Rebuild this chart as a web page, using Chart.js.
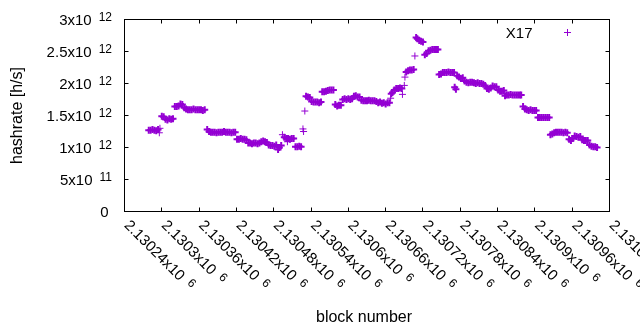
<!DOCTYPE html>
<html lang="en">
<head>
    <meta charset="UTF-8">
    <title>X17 hashrate</title>
    <script src="https://cdn.jsdelivr.net/npm/chart.js"></script>
    <style>
        body { margin: 0; background: #fff; }
    </style>
</head>
<body>
    <canvas id="myChart" width="640" height="330"></canvas>

    <script>
        // block numbers and hashrate (in units of 10^12 h/s)
        const blocks = [
            2130279, 2130282, 2130285, 2130288, 2130291, 2130294, 2130296, 2130297,
            2130300, 2130303, 2130306, 2130309, 2130312, 2130315, 2130318,
            2130321, 2130324, 2130327, 2130330, 2130333, 2130336,
            2130339, 2130342, 2130345, 2130348, 2130351, 2130354, 2130357, 2130360, 2130363, 2130366, 2130369,
            2130373, 2130376, 2130379, 2130382, 2130385, 2130388, 2130391, 2130394, 2130397, 2130400,
            2130403, 2130406, 2130409, 2130412, 2130415, 2130418,
            2130421, 2130424, 2130427, 2130430, 2130433, 2130436,
            2130439, 2130442, 2130445, 2130448, 2130451, 2130454, 2130457,
            2130460, 2130463, 2130466, 2130469,
            2130472, 2130475, 2130478, 2130481, 2130484, 2130487, 2130489, 2130492,
            2130494, 2130497, 2130500, 2130502, 2130503, 2130506, 2130509, 2130512,
            2130515, 2130518, 2130521, 2130524, 2130527, 2130528, 2130530,
            2130532, 2130535, 2130538,
            2130541, 2130544, 2130547, 2130550, 2130553, 2130556,
            2130558, 2130561, 2130564, 2130567, 2130570, 2130573, 2130576,
            2130579, 2130582, 2130585, 2130588,
            2130591, 2130594, 2130597, 2130600, 2130603, 2130606,
            2130609, 2130612, 2130615, 2130618,
            2130621, 2130624, 2130627, 2130630, 2130633, 2130636, 2130639, 2130642, 2130645,
            2130648, 2130651, 2130654, 2130657, 2130660, 2130663, 2130666,
            2130668, 2130669, 2130671,
            2130674, 2130677, 2130680, 2130683, 2130686, 2130687, 2130690, 2130691,
            2130693, 2130696, 2130699, 2130702, 2130705, 2130707,
            2130709, 2130711, 2130714, 2130717, 2130720, 2130723, 2130726,
            2130729, 2130732, 2130735, 2130738, 2130741, 2130744,
            2130746, 2130749, 2130752, 2130755, 2130758, 2130761, 2130764, 2130767, 2130770, 2130771, 2130773,
            2130775, 2130778, 2130781, 2130784, 2130787, 2130790, 2130793, 2130796, 2130799, 2130802,
            2130805, 2130808, 2130811, 2130814, 2130817, 2130820, 2130823, 2130826, 2130829,
            2130832, 2130835, 2130838, 2130841, 2130844, 2130847, 2130850,
            2130852, 2130855, 2130858, 2130861, 2130864, 2130867, 2130870, 2130873, 2130876, 2130878,
            2130881, 2130884, 2130887, 2130890, 2130893, 2130896, 2130899, 2130902,
            2130905, 2130908, 2130911, 2130914, 2130917, 2130920, 2130923,
            2130925, 2130928, 2130931, 2130934, 2130937, 2130940, 2130943, 2130946, 2130949, 2130952,
            2130955, 2130958, 2130961, 2130964, 2130967, 2130970, 2130973,
            2130976, 2130979, 2130982, 2130985,
            2130988, 2130991, 2130994, 2130997, 2131000
        ];
        const hashrate = [
            1.27, 1.27, 1.28, 1.27, 1.26, 1.28, 1.23, 1.30,
            1.49, 1.48, 1.44, 1.43, 1.45, 1.44, 1.45,
            1.64, 1.64, 1.65, 1.68, 1.67, 1.62,
            1.60, 1.59, 1.59, 1.59, 1.60, 1.59, 1.59, 1.59, 1.59, 1.58, 1.59,
            1.28, 1.25, 1.24, 1.24, 1.24, 1.23, 1.24, 1.24, 1.24, 1.25,
            1.24, 1.24, 1.24, 1.23, 1.24, 1.24,
            1.13, 1.13, 1.14, 1.13, 1.13, 1.12,
            1.07, 1.07, 1.06, 1.07, 1.07, 1.06, 1.07,
            1.09, 1.10, 1.09, 1.08,
            1.04, 1.03, 1.03, 1.02, 1.04, 0.97, 1.00, 1.03,
            1.20, 1.16, 1.14, 1.09, 1.14, 1.13, 1.14, 1.14,
            1.01, 1.01, 1.02, 1.01, 1.29, 1.25, 1.57,
            1.80, 1.79, 1.78,
            1.72, 1.71, 1.71, 1.71, 1.70, 1.71,
            1.87, 1.87, 1.88, 1.89, 1.90, 1.90, 1.90,
            1.67, 1.65, 1.66, 1.66,
            1.75, 1.76, 1.75, 1.76, 1.75, 1.76,
            1.80, 1.81, 1.79, 1.79,
            1.74, 1.73, 1.73, 1.73, 1.74, 1.73, 1.73, 1.73, 1.72,
            1.70, 1.71, 1.69, 1.70, 1.68, 1.70, 1.70,
            1.77, 1.84, 1.86,
            1.90, 1.92, 1.92, 1.93, 1.92, 1.83, 1.97, 2.10,
            2.18, 2.20, 2.21, 2.21, 2.22, 2.43,
            2.72, 2.70, 2.67, 2.66, 2.65, 2.45, 2.47,
            2.51, 2.52, 2.53, 2.53, 2.53, 2.53,
            2.14, 2.15, 2.17, 2.17, 2.17, 2.18, 2.17, 2.17, 2.17, 1.94, 1.91,
            2.12, 2.10, 2.08, 2.09, 2.04, 2.02, 2.01, 2.02, 2.02, 2.01,
            2.00, 2.01, 2.00, 2.00, 1.99, 1.97, 1.92, 1.91, 1.93,
            1.96, 1.95, 1.95, 1.90, 1.88, 1.88, 1.89,
            1.81, 1.82, 1.82, 1.83, 1.82, 1.82, 1.82, 1.82, 1.82, 1.82,
            1.64, 1.60, 1.59, 1.58, 1.59, 1.58, 1.58, 1.58,
            1.47, 1.47, 1.47, 1.47, 1.47, 1.47, 1.47,
            1.20, 1.21, 1.23, 1.24, 1.24, 1.24, 1.24, 1.23, 1.24, 1.23,
            1.13, 1.11, 1.14, 1.18, 1.17, 1.16, 1.17,
            1.12, 1.11, 1.11, 1.11,
            1.04, 1.02, 1.01, 1.01, 1.00
        ];

        const xTicks = [2130240, 2130300, 2130360, 2130420, 2130480, 2130540, 2130600,
                        2130660, 2130720, 2130780, 2130840, 2130900, 2130960, 2131020];
        const xTickText = ['2.13024', '2.1303', '2.13036', '2.13042', '2.13048', '2.13054', '2.1306',
                           '2.13066', '2.13072', '2.13078', '2.13084', '2.1309', '2.13096', '2.13102'];
        const yTicks = [0, 0.5, 1, 1.5, 2, 2.5, 3];
        const yTickText = ['0', '5', '1', '1.5', '2', '2.5', '3'];
        const yTickExp = ['', '11', '12', '12', '12', '12', '12'];

        const purple = '#9400d3';
        const mainFont = '15px "Liberation Sans", Arial, sans-serif';
        const supFont = '12px "Liberation Sans", Arial, sans-serif';
        const titleFont = '16px "Liberation Sans", Arial, sans-serif';

        // gnuplot style frame: border, inward ticks on all sides, labels with superscripts
        const gnuplotFrame = {
            id: 'gnuplotFrame',
            afterDraw(chart) {
                const c = chart.ctx;
                const a = chart.chartArea;
                const xs = chart.scales.x;
                const ys = chart.scales.y;
                c.save();
                c.strokeStyle = '#000';
                c.fillStyle = '#000';
                c.lineWidth = 1;
                c.strokeRect(a.left, a.top, a.right - a.left, a.bottom - a.top);

                c.beginPath();
                xTicks.forEach(v => {
                    const px = Math.floor(xs.getPixelForValue(v)) + 0.5;
                    c.moveTo(px, a.bottom); c.lineTo(px, a.bottom - 4);
                    c.moveTo(px, a.top); c.lineTo(px, a.top + 4);
                });
                yTicks.forEach(v => {
                    const py = Math.floor(ys.getPixelForValue(v)) + 0.5;
                    c.moveTo(a.left, py); c.lineTo(a.left + 4, py);
                    c.moveTo(a.right, py); c.lineTo(a.right - 4, py);
                });
                c.stroke();

                // y tick labels
                c.textBaseline = 'alphabetic';
                yTicks.forEach((v, i) => {
                    const py = ys.getPixelForValue(v);
                    c.font = mainFont;
                    const w = c.measureText(yTickText[i] + 'x10').width;
                    if (yTickExp[i] === '') {
                        c.textAlign = 'right';
                        c.fillText(yTickText[i], 108.5, py + 5);
                        return;
                    }
                    c.font = supFont;
                    const ws = c.measureText(yTickExp[i]).width;
                    const x0 = 112 - ws - 7 - w;
                    c.textAlign = 'left';
                    c.font = mainFont;
                    c.fillText(yTickText[i] + 'x10', x0, py + 5);
                    c.font = supFont;
                    c.fillText(yTickExp[i], x0 + w + 7, py + 1);
                });

                // x tick labels, rotated
                xTicks.forEach((v, i) => {
                    const px = xs.getPixelForValue(v);
                    c.save();
                    c.translate(px - 1, 226);
                    c.rotate(Math.PI / 4);
                    c.textAlign = 'left';
                    c.font = mainFont;
                    const w = c.measureText(xTickText[i] + 'x10').width;
                    c.fillText(xTickText[i] + 'x10', 0, 0);
                    c.font = supFont;
                    c.fillText('6', w + 7, -4);
                    c.restore();
                });

                // axis titles
                c.font = titleFont;
                c.textAlign = 'center';
                c.fillText('block number', (a.left + a.right) / 2 - 3, 321.5);
                c.save();
                c.translate(21.5, (a.top + a.bottom) / 2);
                c.rotate(-Math.PI / 2);
                c.fillText('hashrate [h/s]', 0, 0);
                c.restore();

                // key
                c.font = mainFont;
                c.textAlign = 'right';
                c.fillText(chart.data.datasets[0].label, 532.5, 37.5);
                c.strokeStyle = purple;
                c.beginPath();
                c.moveTo(564, 32.5); c.lineTo(571, 32.5);
                c.moveTo(567.5, 29); c.lineTo(567.5, 36);
                c.stroke();
                c.restore();
            }
        };

        const points = blocks.map((b, i) => ({ x: b, y: hashrate[i] }));

        // crosses packed into a run overlap into a solid band, so draw those a bit heavier
        function markWidth(ctx) {
            const i = ctx.dataIndex;
            if (i === undefined) return 1;
            const near = j => j >= 0 && j < blocks.length &&
                Math.abs(blocks[j] - blocks[i]) <= 3 && Math.abs(hashrate[j] - hashrate[i]) < 0.04;
            return (near(i - 1) || near(i + 1)) ? 2 : 1;
        }

        new Chart(document.getElementById('myChart'), {
            type: 'scatter',
            data: {
                datasets: [{
                    label: 'X17',
                    data: points,
                    pointStyle: 'cross',
                    pointRadius: 3.5,
                    pointHoverRadius: 3.5,
                    borderColor: purple,
                    backgroundColor: purple,
                    borderWidth: markWidth
                }]
            },
            options: {
                responsive: false,
                animation: false,
                layout: {
                    padding: { left: 124.5, top: 19.5, right: 30.5, bottom: 118.5 }
                },
                scales: {
                    x: { type: 'linear', display: false, min: 2130240, max: 2131020 },
                    y: { display: false, min: 0, max: 3 }
                },
                plugins: {
                    legend: { display: false },
                    tooltip: { enabled: false }
                }
            },
            plugins: [gnuplotFrame]
        });
    </script>
</body>
</html>
